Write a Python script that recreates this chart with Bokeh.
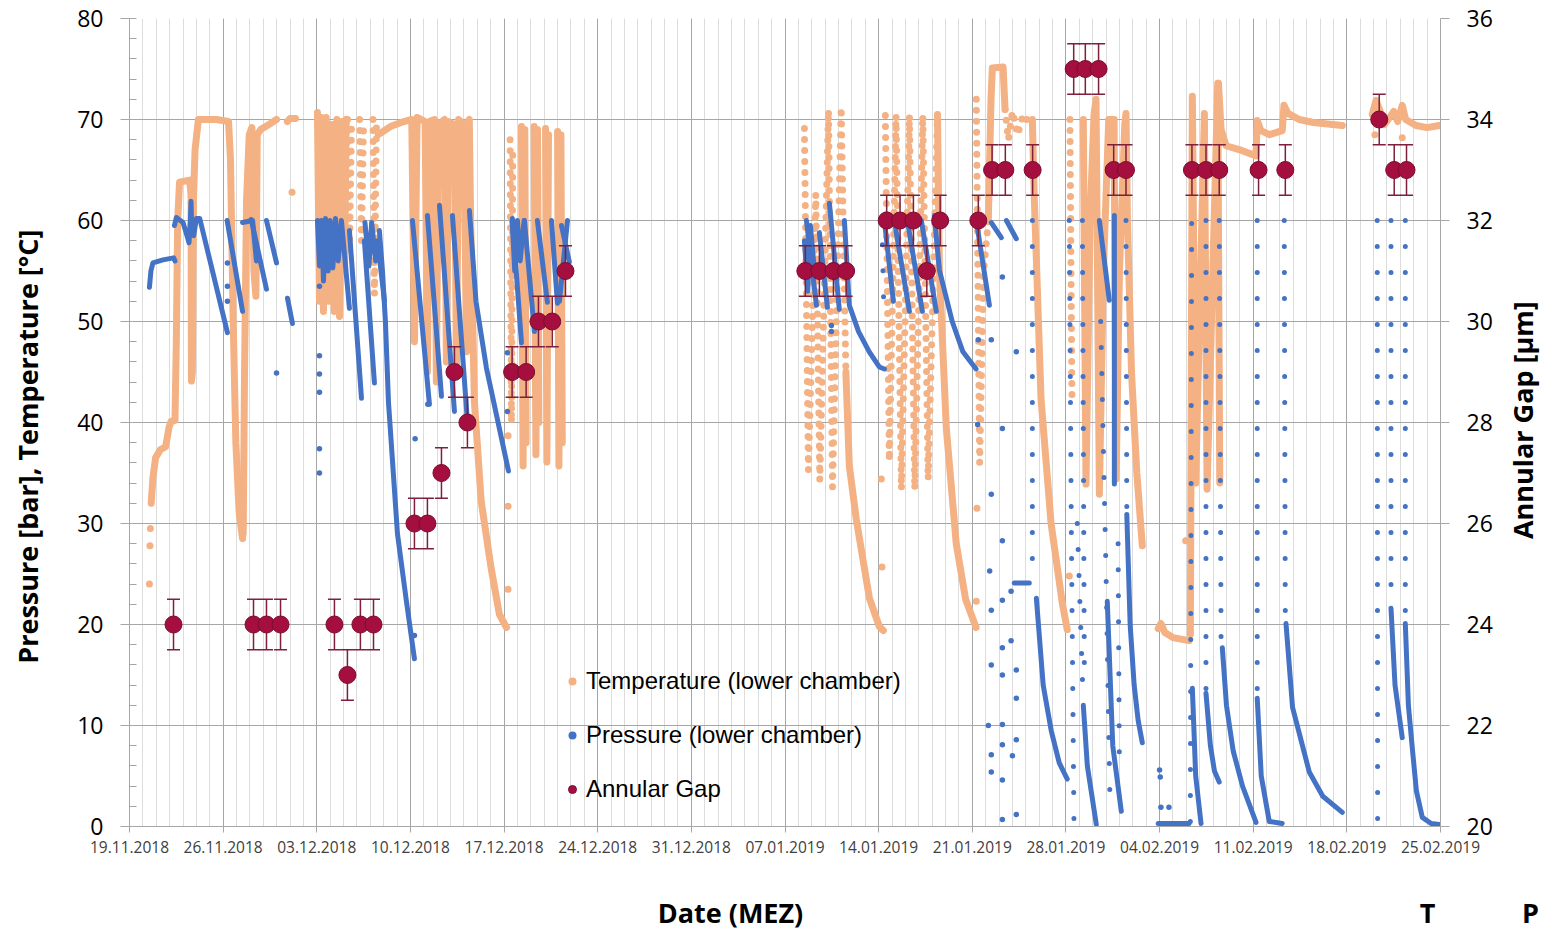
from bokeh.plotting import figure
from bokeh.layouts import row, column
from bokeh.models import (Range1d, LinearAxis, FixedTicker, Legend, LegendItem, Label)
from bokeh.embed import file_html
from bokeh.resources import INLINE

# x = days since 19.11.2018 00:00 (MEZ)
week_ticks = [0, 7, 14, 21, 28, 35, 42, 49, 56, 63, 70, 77, 84, 91, 98]
week_labels = ["19.11.2018", "26.11.2018", "03.12.2018", "10.12.2018", "17.12.2018",
               "24.12.2018", "31.12.2018", "07.01.2019", "14.01.2019", "21.01.2019",
               "28.01.2019", "04.02.2019", "11.02.2019", "18.02.2019", "25.02.2019"]
day_ticks = list(range(0, 99))
left_ticks = [0, 10, 20, 30, 40, 50, 60, 70, 80]
left_minor = list(range(0, 81, 2))
right_ticks = [20, 22, 24, 26, 28, 30, 32, 34, 36]

# ---------------- Temperature (lower chamber) [°C] ----------------
temp_dense = [
    [(1.62, 32.0), (1.75, 34.5), (1.95, 36.5), (2.3, 37.3),
     (2.7, 37.6), (2.95, 39.5), (3.1, 40.1), (3.4, 40.2), (3.5, 48.0), (3.6, 60.0), (3.74, 63.8),
     (4.5, 64.0), (4.6, 62.5), (4.63, 44.1), (4.7, 45.0), (4.78, 62.0), (4.9, 67.0), (5.15, 70.0),
     (6.5, 70.0), (7.4, 69.8), (7.55, 66.0), (7.75, 50.0), (7.95, 38.0), (8.2, 31.0), (8.45, 28.5)],
    [(8.5, 29.0), (8.6, 45.0), (8.75, 62.0), (8.95, 68.5), (9.15, 69.2), (9.3, 55.0), (9.45, 52.5),
     (9.55, 68.5), (9.8, 69.0), (10.3, 69.4), (10.99, 70.0)],
    [(11.8, 69.8), (12.0, 70.1), (12.41, 70.1)],
    [(14.05, 70.7), (14.2, 52.0), (14.35, 70.2), (14.5, 51.0), (14.7, 70.2), (14.9, 52.0), (15.1, 69.5),
     (15.3, 51.0), (15.5, 70.0), (15.7, 50.5), (15.9, 69.8), (16.07, 55.0), (16.2, 70.0)],
    [(18.6, 68.5), (19.5, 69.3), (20.5, 69.8), (21.1, 70.0), (21.3, 48.0), (21.5, 70.2), (22.1, 69.8),
     (22.27, 45.0), (22.42, 69.8), (22.8, 70.0), (22.94, 44.0), (23.1, 69.5), (23.55, 70.0), (23.69, 46.0),
     (23.85, 69.8), (24.3, 69.5), (24.44, 45.0), (24.6, 70.0), (25.0, 69.5), (25.19, 47.0), (25.3, 69.8),
     (25.4, 70.0), (25.5, 60.0), (25.78, 42.1), (26.29, 32.2), (27.03, 25.6), (27.65, 21.0), (28.18, 19.7)],
    [(29.3, 69.3), (29.42, 35.7), (29.55, 69.0), (29.65, 38.0)],
    [(30.25, 69.3), (30.38, 36.8), (30.5, 69.0), (30.6, 40.0)],
    [(31.1, 69.1), (31.2, 36.1), (31.32, 68.5)],
    [(32.0, 68.8), (32.1, 35.7), (32.25, 68.5), (32.35, 38.0)],
    [(53.55, 45.0), (53.81, 35.7), (54.33, 30.4), (55.31, 22.6), (56.05, 19.8), (56.35, 19.4)],
    [(60.4, 70.5), (60.54, 55.0), (61.06, 39.4), (61.8, 28.0), (62.5, 22.5), (63.28, 19.7)],
    [(64.2, 60.0), (64.4, 72.0), (64.5, 75.1), (65.3, 75.2), (65.45, 71.0)],
    [(67.49, 70.0), (67.64, 62.0), (68.14, 42.3), (68.89, 30.0), (69.73, 22.1), (70.1, 19.5)],
    [(71.3, 70.0), (71.5, 33.9), (71.8, 60.0), (72.1, 70.5), (72.25, 72.0), (72.5, 32.9), (72.8, 55.0),
     (73.2, 70.0), (73.6, 70.0), (73.75, 34.4), (74.0, 55.0), (74.4, 69.5), (74.49, 70.6), (74.6, 60.0),
     (74.9, 45.0), (75.3, 35.0), (75.71, 27.8)],
    [(76.9, 19.6), (77.1, 20.1), (77.4, 19.2), (78.0, 18.7), (79.2, 18.4)],
    [(79.3, 19.0), (79.45, 72.3), (79.7, 34.0), (80.35, 70.6), (80.55, 33.4), (81.35, 73.6), (81.5, 34.0)],
    [(81.4, 73.6), (81.6, 69.0), (81.97, 67.4), (83.0, 67.0), (84.21, 66.4), (84.3, 69.9), (84.58, 68.9),
     (85.2, 68.5), (86.17, 68.9), (86.3, 71.4), (86.6, 70.6), (87.44, 70.0), (88.5, 69.7), (90.66, 69.4)],
    [(92.9, 70.5), (93.18, 71.9), (93.5, 70.8), (93.8, 69.5), (94.2, 70.2), (94.5, 70.8), (94.8, 69.8),
     (95.14, 71.4), (95.4, 70.0), (96.17, 69.4), (97.0, 69.2), (97.9, 69.4)],
]
temp_dotted = [
    [(16.3, 70.0), (16.44, 57.0), (16.6, 69.5)],
    [(17.2, 70.0), (17.34, 58.0), (17.5, 69.8)],
    [(18.2, 70.0), (18.31, 52.7), (18.46, 69.5)],
    [(28.45, 68.0), (28.55, 40.0), (28.65, 67.0)],
    [(50.45, 69.1), (50.75, 35.3), (51.3, 62.6), (51.6, 34.3), (52.25, 70.9), (52.55, 33.6), (53.2, 71.2),
     (53.55, 45.0)],
    [(56.5, 70.4), (56.8, 36.2), (57.3, 70.4), (57.7, 33.4), (58.3, 70.4), (58.7, 33.4), (59.3, 70.4),
     (59.7, 34.4), (60.4, 70.5)],
    [(63.3, 72.0), (63.55, 36.0), (63.85, 55.0), (64.2, 60.0)],
    [(65.45, 71.0), (65.7, 68.0), (66.0, 70.8), (66.4, 68.5), (66.8, 70.5), (67.2, 69.8), (67.49, 70.0)],
    [(70.3, 70.0), (70.45, 42.3)],
]
temp_pts = [(1.49, 24.0), (1.53, 27.8), (1.56, 29.5), (12.15, 62.8), (28.3, 38.7), (28.3, 31.7),
            (28.3, 23.5), (56.2, 34.4), (56.25, 25.7), (63.3, 22.3), (63.35, 31.5), (70.25, 24.8),
            (78.95, 28.3), (93.1, 68.5), (95.14, 68.2)]

# ---------------- Pressure (lower chamber) [bar] ----------------
press_dense = [
    [(1.49, 53.4), (1.6, 55.0), (1.75, 55.8), (2.5, 56.1), (3.3, 56.3), (3.4, 56.0)],
    [(3.36, 59.5), (3.5, 60.3), (4.0, 59.8), (4.3, 58.5), (4.45, 57.8), (4.55, 60.0), (4.6, 61.9),
     (4.65, 59.0), (4.8, 58.5), (5.0, 60.2), (5.25, 60.2), (7.32, 48.9)],
    [(7.3, 60.0), (8.45, 51.0)],
    [(8.45, 59.8), (9.2, 60.0), (9.49, 56.0)],
    [(9.1, 60.1), (10.24, 53.2)],
    [(10.24, 60.0), (10.99, 55.8)],
    [(11.81, 52.3), (12.18, 49.8)],
    [(14.05, 60.0), (14.2, 55.5), (14.35, 60.0), (14.5, 54.0), (14.65, 60.2), (14.85, 55.0), (15.0, 60.0),
     (15.2, 55.3), (15.4, 60.2), (15.6, 56.0), (15.84, 60.0), (16.44, 51.3)],
    [(16.44, 59.0), (17.34, 42.4)],
    [(17.56, 58.0), (18.31, 43.9)],
    [(18.54, 58.0), (19.06, 52.0)],
    [(17.6, 59.8), (17.9, 55.5), (18.1, 59.8), (18.4, 56.0)],
    [(18.68, 59.0), (18.91, 55.0), (19.13, 50.0), (19.36, 42.0), (20.03, 29.0), (20.7, 22.3), (21.3, 16.6)],
    [(21.15, 60.0), (22.42, 41.8)],
    [(22.27, 60.5), (23.32, 42.6)],
    [(23.17, 61.5), (24.29, 41.1)],
    [(24.14, 60.5), (25.26, 40.1)],
    [(25.41, 61.0), (25.9, 52.0), (26.68, 45.4), (28.33, 35.2)],
    [(28.62, 60.2), (29.3, 47.9)],
    [(29.52, 60.0), (30.27, 49.0)],
    [(30.49, 60.0), (31.24, 51.9)],
    [(31.54, 60.0), (31.99, 51.8)],
    [(32.14, 52.0), (32.74, 60.0)],
    [(32.29, 59.5), (32.88, 55.9)],
    [(28.6, 60.0), (28.8, 55.0), (29.0, 60.0), (29.2, 56.0), (29.5, 60.0)],
    [(50.6, 60.0), (51.35, 51.6)],
    [(51.57, 58.8), (52.17, 51.4)],
    [(52.32, 61.7), (53.06, 51.2)],
    [(53.44, 60.0), (53.81, 51.6), (54.5, 49.0), (55.3, 47.0), (56.05, 45.5), (56.43, 45.3)],
    [(50.45, 58.0), (50.7, 53.0), (50.9, 59.5), (51.2, 55.0)],
    [(56.43, 60.0), (57.1, 52.0)],
    [(57.17, 60.0), (58.3, 51.0)],
    [(58.15, 60.0), (59.27, 51.0)],
    [(59.19, 60.0), (60.31, 51.0)],
    [(60.16, 60.5), (60.54, 55.1), (61.5, 50.0), (62.3, 47.0), (63.28, 45.3)],
    [(63.3, 60.0), (64.28, 51.6)],
    [(64.42, 59.8), (65.17, 58.3)],
    [(65.55, 60.0), (66.29, 58.2)],
    [(66.14, 24.1), (67.26, 24.1)],
    [(67.79, 22.6), (68.3, 14.0), (68.9, 9.5), (69.5, 6.3), (70.1, 4.7)],
    [(71.3, 12.0), (71.6, 6.0), (72.27, 0.2)],
    [(72.5, 60.0), (73.24, 52.1)],
    [(73.62, 60.5), (73.62, 33.9)],
    [(73.09, 22.3), (73.5, 8.0), (74.14, 1.5)],
    [(74.55, 30.9), (74.8, 20.0), (75.1, 14.0), (75.4, 10.5), (75.71, 8.3)],
    [(76.9, 0.3), (79.2, 0.3)],
    [(79.45, 13.7), (79.7, 5.0), (80.1, 0.3)],
    [(80.47, 13.2), (80.8, 8.0), (81.1, 5.5), (81.46, 4.4)],
    [(81.69, 17.7), (82.0, 12.0), (82.5, 7.5), (83.2, 4.0), (84.21, 0.4)],
    [(84.3, 12.7), (84.6, 5.0), (85.2, 0.5), (86.17, 0.3)],
    [(86.45, 20.1), (86.94, 11.8), (88.19, 5.4), (89.2, 3.0), (90.66, 1.4)],
    [(94.3, 21.6), (94.6, 14.0), (95.14, 8.8)],
    [(95.37, 20.1), (95.6, 12.0), (95.89, 7.8), (96.2, 3.5), (96.64, 0.9), (97.3, 0.3), (97.9, 0.2)],
]
press_dotted = [
    [(56.28, 57.6), (56.4, 50.5)],
    [(67.49, 60.0), (67.49, 24.1)],
    [(70.25, 60.0), (70.4, 30.0), (70.6, 0.5)],
    [(70.85, 30.0), (71.3, 12.0)],
    [(71.23, 60.0), (71.38, 15.0)],
    [(72.6, 50.0), (73.0, 25.0), (73.3, 2.0)],
    [(74.49, 60.0), (74.55, 31.0)],
    [(73.9, 28.0), (74.0, 5.0)],
    [(79.3, 0.5), (79.4, 60.8)],
    [(80.47, 60.0), (80.47, 13.2)],
    [(81.46, 60.0), (81.6, 17.7)],
    [(84.3, 60.0), (84.3, 12.7)],
    [(86.32, 60.0), (86.4, 20.1)],
    [(93.27, 60.0), (93.3, 0.5)],
    [(94.3, 60.0), (94.3, 21.6)],
    [(95.37, 60.0), (95.37, 20.1)],
]
press_pts = [(10.99, 44.9), (7.32, 55.8), (7.32, 53.5), (7.32, 52.0), (14.2, 53.5), (14.2, 46.6),
             (14.2, 44.8), (14.2, 43.0), (14.2, 37.4), (14.2, 35.0), (21.3, 18.9), (21.35, 38.4),
             (22.3, 41.8), (28.25, 46.9), (28.25, 41.1), (52.47, 49.6), (52.47, 49.0),
             (64.42, 48.2), (64.42, 32.9), (64.42, 21.4), (64.42, 16.0), (64.42, 7.1), (64.42, 5.4),
             (65.25, 54.4), (65.25, 39.4), (65.25, 28.3), (65.25, 22.4), (65.25, 17.7), (65.25, 15.0),
             (65.25, 10.1), (65.25, 8.1), (65.25, 4.6), (65.25, 0.7), (66.29, 47.0), (66.29, 15.5),
             (66.29, 12.7), (66.29, 8.6), (66.29, 1.2), (63.45, 48.2), (63.4, 39.8), (64.3, 25.3),
             (64.2, 10.0), (65.9, 23.3), (65.9, 18.4), (66.0, 7.0),
             (77.0, 5.6), (77.05, 4.9), (77.1, 1.9), (77.7, 1.9)]

# ---------------- Annular Gap [µm] ----------------
gap_t = [3.29, 9.27, 10.24, 11.29, 15.32, 16.29, 17.26, 18.24, 21.3, 22.27, 23.32, 24.29, 25.26,
         28.6, 29.65, 30.57, 31.6, 32.59, 50.52, 51.57, 52.62, 53.57, 56.6, 57.6, 58.6, 59.6, 60.6,
         63.45, 64.48, 65.47, 67.51, 70.58, 71.45, 72.44, 73.57, 74.49,
         79.42, 80.47, 81.46, 84.4, 86.4, 93.42, 94.54, 95.46]
gap_v = [24, 24, 24, 24, 24, 23, 24, 24, 26, 26, 27, 29, 28,
         29, 29, 30, 30, 31, 31, 31, 31, 31, 32, 32, 32, 31, 32,
         32, 33, 33, 33, 35, 35, 35, 33, 33,
         33, 33, 33, 33, 33, 34, 33, 33]
GAP_ERR = 0.5

TEMP_C = "#F4B183"
PRESS_C = "#4472C4"
GAP_C = "#A50F3F"
ERR_C = "#7E1F3C"
GRID_MAJ = "#a6a6a6"
GRID_MIN = "#dcdcdc"
FONT = "Open Sans"
bold = dict(text_font=FONT, text_font_style="bold", text_font_size="27px", text_color="#000000")


def split(traces):
    return [[q[0] for q in tr] for tr in traces], [[q[1] for q in tr] for tr in traces]


def text_strip(width, height):
    s = figure(width=width, height=height, x_range=Range1d(0, width), y_range=Range1d(0, height),
               output_backend="svg", toolbar_location=None, min_border=0,
               x_axis_type=None, y_axis_type=None)
    s.outline_line_color = None
    return s


p = figure(width=1440, height=870, x_range=Range1d(0, 98), y_range=Range1d(0, 80),
           output_backend="svg", toolbar_location=None,
           min_border_left=69, min_border_right=60, min_border_top=18, min_border_bottom=44)
p.outline_line_color = None
p.extra_y_ranges = {"gap": Range1d(20, 36)}

# x axis
p.xaxis.ticker = FixedTicker(ticks=week_ticks, minor_ticks=day_ticks)
p.xaxis.major_label_overrides = {t: l for t, l in zip(week_ticks, week_labels)}
p.xaxis.major_label_text_font = FONT
p.xaxis.major_label_text_font_size = "15.5px"
p.xaxis.major_label_text_color = "#404040"
p.xaxis.major_tick_out = 6
p.xaxis.major_tick_in = 0
p.xaxis.minor_tick_out = 0
p.xaxis.minor_tick_in = 0
p.xaxis.major_label_standoff = 8
p.xaxis.axis_line_color = GRID_MAJ
p.xaxis.major_tick_line_color = GRID_MAJ

# left y axis
p.yaxis.ticker = FixedTicker(ticks=left_ticks, minor_ticks=left_minor)
p.yaxis.major_label_text_font = FONT
p.yaxis.major_label_text_font_size = "23px"
p.yaxis.major_label_text_color = "#000000"
p.yaxis.major_tick_out = 9
p.yaxis.major_tick_in = 0
p.yaxis.minor_tick_out = 0
p.yaxis.minor_tick_in = 7
p.yaxis.major_label_standoff = 17
p.yaxis.axis_line_color = GRID_MAJ
p.yaxis.major_tick_line_color = GRID_MAJ
p.yaxis.minor_tick_line_color = GRID_MAJ

# right y axis
ra = LinearAxis(y_range_name="gap", ticker=FixedTicker(ticks=right_ticks))
ra.major_label_text_font = FONT
ra.major_label_text_font_size = "23px"
ra.major_label_text_color = "#000000"
ra.major_tick_out = 9
ra.major_tick_in = 0
ra.minor_tick_out = 0
ra.minor_tick_in = 0
ra.major_label_standoff = 17
ra.axis_line_color = GRID_MAJ
ra.major_tick_line_color = GRID_MAJ
p.add_layout(ra, "right")

# grid
p.xgrid.grid_line_color = GRID_MAJ
p.xgrid.minor_grid_line_color = GRID_MIN
p.ygrid.grid_line_color = GRID_MAJ

# temperature
xs, ys = split(temp_dense)
p.multi_line(xs, ys, line_color=TEMP_C, line_width=7, line_cap="round", line_join="round")
xs, ys = split(temp_dotted)
p.multi_line(xs, ys, line_color=TEMP_C, line_width=7, line_cap="round", line_join="round",
             line_dash="0 11")
r_temp = p.scatter([q[0] for q in temp_pts], [q[1] for q in temp_pts], size=7,
                   fill_color=TEMP_C, line_color=None)

# pressure
xs, ys = split(press_dense)
p.multi_line(xs, ys, line_color=PRESS_C, line_width=5, line_cap="round", line_join="round")
xs, ys = split(press_dotted)
p.multi_line(xs, ys, line_color=PRESS_C, line_width=5, line_cap="round", line_join="round",
             line_dash="0 26")
r_press = p.scatter([q[0] for q in press_pts], [q[1] for q in press_pts], size=5.5,
                    fill_color=PRESS_C, line_color=None)

# annular gap with error bars
lo = [g - GAP_ERR for g in gap_v]
hi = [g + GAP_ERR for g in gap_v]
p.segment(gap_t, lo, gap_t, hi, y_range_name="gap", line_color=ERR_C, line_width=1.5)
p.scatter(gap_t, lo, y_range_name="gap", marker="dash", size=13, line_color=ERR_C, line_width=1.5)
p.scatter(gap_t, hi, y_range_name="gap", marker="dash", size=13, line_color=ERR_C, line_width=1.5)
r_gap = p.scatter(gap_t, gap_v, y_range_name="gap", size=17, fill_color=GAP_C,
                  line_color="#7a0c2e", line_width=1)

legend = Legend(items=[LegendItem(label="Temperature (lower chamber)", renderers=[r_temp]),
                       LegendItem(label="Pressure (lower chamber)", renderers=[r_press]),
                       LegendItem(label="Annular Gap", renderers=[r_gap])],
                location=(433, 23), orientation="vertical",
                label_text_font="Liberation Sans", label_text_font_size="24px",
                label_text_color="#000000", glyph_width=20, glyph_height=28, label_height=28,
                spacing=26, padding=0, margin=0, label_standoff=4,
                border_line_alpha=0, background_fill_alpha=0)
p.add_layout(legend)

# left strip: left-hand axis title (reads bottom to top)
p_left = text_strip(60, 870)
p_left.add_layout(Label(x=27, y=409, text="Pressure [bar], Temperature [°C]", angle=90,
                        angle_units="deg", text_align="center", text_baseline="middle", **bold))

# right strip: right-hand axis title (reads bottom to top)
p_right = text_strip(41, 870)
p_right.add_layout(Label(x=22, y=437.5, text="Annular Gap [µm]", angle=90, angle_units="deg",
                         text_align="center", text_baseline="middle", **bold))

# bottom strip: x-axis title and the two stray letters
p_bottom = text_strip(1541, 60)
for txt, xc in (("Date (MEZ)", 730), ("T", 1427), ("P", 1530)):
    p_bottom.add_layout(Label(x=xc, y=18, text=txt, text_align="center", text_baseline="middle",
                              **bold))

layout = column(row(p_left, p, p_right), p_bottom)
open("out.html", "w").write(file_html(layout, INLINE))
